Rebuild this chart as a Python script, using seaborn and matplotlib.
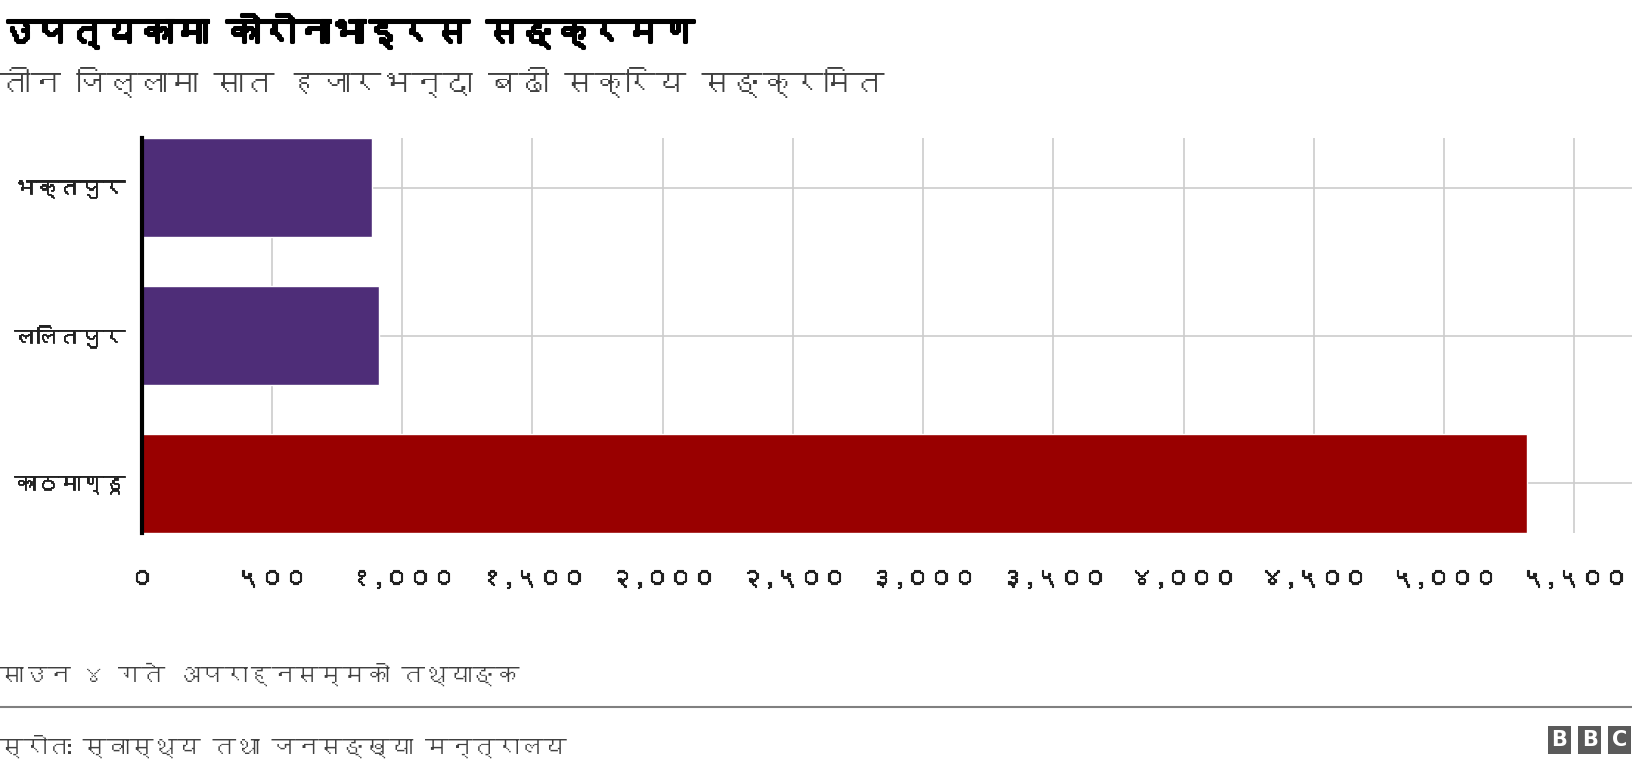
import matplotlib
matplotlib.use("Agg")
import matplotlib.pyplot as plt
import matplotlib.patheffects as pe
from matplotlib import font_manager
from matplotlib.ft2font import FT2Font
import seaborn as sns
import pandas as pd

# ---------------- data ----------------
districts = ['भक्तपुर', 'ललितपुर', 'काठमाण्डू']
active_cases = [883, 911, 5318]
bar_colors = ['#4e2d78', '#4e2d78', '#990000']
tick_values = [0, 500, 1000, 1500, 2000, 2500, 3000, 3500, 4000, 4500, 5000, 5500]

title = 'उपत्यकामा कोरोनाभाइरस सङ्क्रमण'
subtitle = 'तीन जिल्लामा सात हजारभन्दा बढी सक्रिय सङ्क्रमित'
note = 'साउन ४ गते अपराह्नसम्मको तथ्याङ्क'
source = 'स्रोतः स्वास्थ्य तथा जनसङ्ख्या मन्त्रालय'

DEV_DIGITS = str.maketrans('0123456789', '०१२३४५६७८९')
def dev_num(v):
    return f'{v:,}'.translate(DEV_DIGITS)

# -------- find a font that covers Devanagari --------
def find_devanagari():
    found = []
    for f in font_manager.fontManager.ttflist:
        try:
            ft = FT2Font(f.fname)
            if ft.get_char_index(ord('क')) and ft.get_char_index(ord('०')):
                found.append(f.name)
        except Exception:
            pass
    return found

families = []
for f in find_devanagari():
    if f not in families:
        families.append(f)
families = families + ['DejaVu Sans']

sns.set_theme(style='white')
plt.rcParams['font.family'] = families

df = pd.DataFrame({'district': districts, 'cases': active_cases})

fig = plt.figure(figsize=(16.32, 7.74), dpi=100)
ax = fig.add_axes([0.0868, 0.3114, 0.9132, 0.5098])

sns.barplot(data=df, x='cases', y='district', hue='district',
            palette=dict(zip(districts, bar_colors)), orient='h',
            width=0.67, legend=False, ax=ax, saturation=1)

ax.set_xlim(0, 5721)
ax.set_ylim(2 + 0.335, -0.335)
ax.set_xticks(tick_values)
ax.set_xticklabels([dev_num(v) for v in tick_values], fontsize=17, color='#222222')
for t in ax.get_xticklabels():
    t.set_path_effects([pe.withStroke(linewidth=0.8, foreground='#222222')])
ax.tick_params(axis='x', length=0, pad=26)
ax.tick_params(axis='y', length=0, pad=12, labelsize=16, labelcolor='#222222')
for t in ax.get_yticklabels():
    t.set_path_effects([pe.withStroke(linewidth=0.6, foreground='#222222')])
ax.set_xlabel('')
ax.set_ylabel('')
ax.grid(True, color='#cccccc', linewidth=1.2)
ax.set_axisbelow(True)
for s in ['top', 'right', 'bottom']:
    ax.spines[s].set_visible(False)
ax.spines['left'].set_color('black')
ax.spines['left'].set_linewidth(3)

fig.text(0.0, 0.983, title, fontsize=25, fontweight='bold', color='#000000', va='top', ha='left',
         path_effects=[pe.withStroke(linewidth=2.2, foreground='#000000')])
fig.text(0.0, 0.913, subtitle, fontsize=22, color='#404040', va='top', ha='left')
fig.text(0.0, 0.1286, note, fontsize=17, color='#404040', va='center', ha='left')
fig.add_artist(plt.Line2D([0, 1], [0.087, 0.087], transform=fig.transFigure, color='#808080', linewidth=1.5))
fig.text(0.0, 0.036, source, fontsize=17, color='#404040', va='center', ha='left')

for i, ch in enumerate('BBC'):
    fig.text(0.9555 + i * 0.0185, 0.044, ch, fontsize=15, fontweight='bold', color='white',
             ha='center', va='center', family='DejaVu Sans',
             bbox=dict(boxstyle='square,pad=0.18', fc='#5a5a5a', ec='none'))

fig.savefig('out.png', dpi=100)
